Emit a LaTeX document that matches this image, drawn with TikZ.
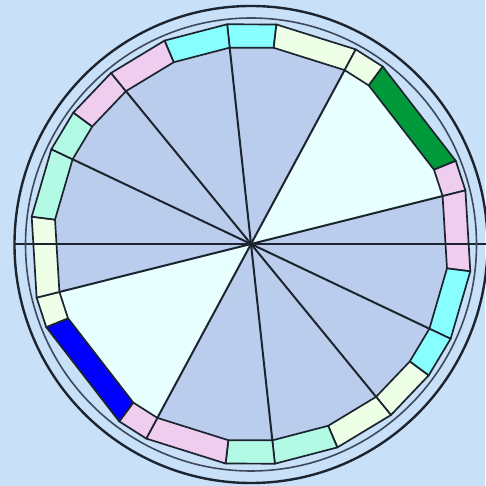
\documentclass[tikz,border=0pt]{standalone}
\usepackage{xcolor}
\usepackage{tikz}
\usetikzlibrary{calc}
\definecolor{skyback}{HTML}{C8E0F8}
\definecolor{wheelblue}{HTML}{BACDEC}
\definecolor{paleaqua}{HTML}{E8FFFF}
\definecolor{rimdark}{HTML}{1C2430}
\definecolor{rimgray}{HTML}{3E4A5C}
\definecolor{segcyan}{HTML}{88FFFF}
\definecolor{seghoney}{HTML}{EEFFE8}
\definecolor{seggreen}{HTML}{009A3A}
\definecolor{segpink}{HTML}{EECDEE}
\definecolor{segmint}{HTML}{B2FAE4}
\definecolor{segblue}{HTML}{0000FF}

\begin{document}
\begin{tikzpicture}[x=1pt, y=1pt,
    cuspline/.style={draw=rimdark, line width=2pt},
    segbox/.style={draw=rimdark, line width=1.7pt, line join=round}]
    \fill[skyback] (0,0) rectangle (485,486);
    \useasboundingbox (0,0) rectangle (485,486);
    \begin{scope}[shift={(251,242)}]
      \coordinate (ctr) at (0,0);
      \fill[wheelblue] (ctr) circle (197.5);
      \fill[paleaqua] (ctr) -- (61.7:197.5) -- (53.4:197.5) -- (22.1:197.5) -- (14.05:197.5) -- cycle;
      \fill[paleaqua] (ctr) -- (241.7:197.5) -- (233.4:197.5) -- (202.1:197.5) -- (194.05:197.5) -- cycle;
      \foreach \a/\b/\c in {96.2/83.4/segcyan, 83.4/61.7/seghoney, 61.7/53.4/seghoney,
          53.4/22.1/seggreen, 22.1/14.05/segpink, 14.05/-7.1/segpink,
          -7.1/-25.4/segcyan, -25.4/-36.5/segcyan, -36.5/-50.7/seghoney,
          -50.7/-67/seghoney, -67/-83.8/segmint, -83.8/-96.6/segmint,
          -96.6/-118.3/segpink, -118.3/-126.6/segpink, -126.6/-157.9/segblue,
          -157.9/-165.95/seghoney, -165.95/-187.1/seghoney, -187.1/-205.4/segmint,
          -205.4/-216.5/segmint, -216.5/-230.7/segpink, -230.7/-247/segpink,
          -247/-263.8/segcyan}
        \filldraw[segbox, fill=\c] (\a:197.5) -- (\a:221) -- (\b:221) -- (\b:197.5) -- cycle;
      \foreach \t in {96.2, 61.7, 14.05, -25.4, -50.7, -83.8, -118.3, -165.95, 154.6, 129.3}
        \draw[cuspline] (ctr) -- (\t:197.5);
      \draw[draw=rimdark, line width=2.4pt] (180:236.5) -- (0:237.5);
      \draw[draw=rimgray, line width=1.6pt] (0,-0.5) ellipse (225.5 and 226.5);
      \draw[draw=rimdark, line width=2.4pt] (0,-0.5) ellipse (236.5 and 238.5);
    \end{scope}
  \end{tikzpicture}
\end{document}
